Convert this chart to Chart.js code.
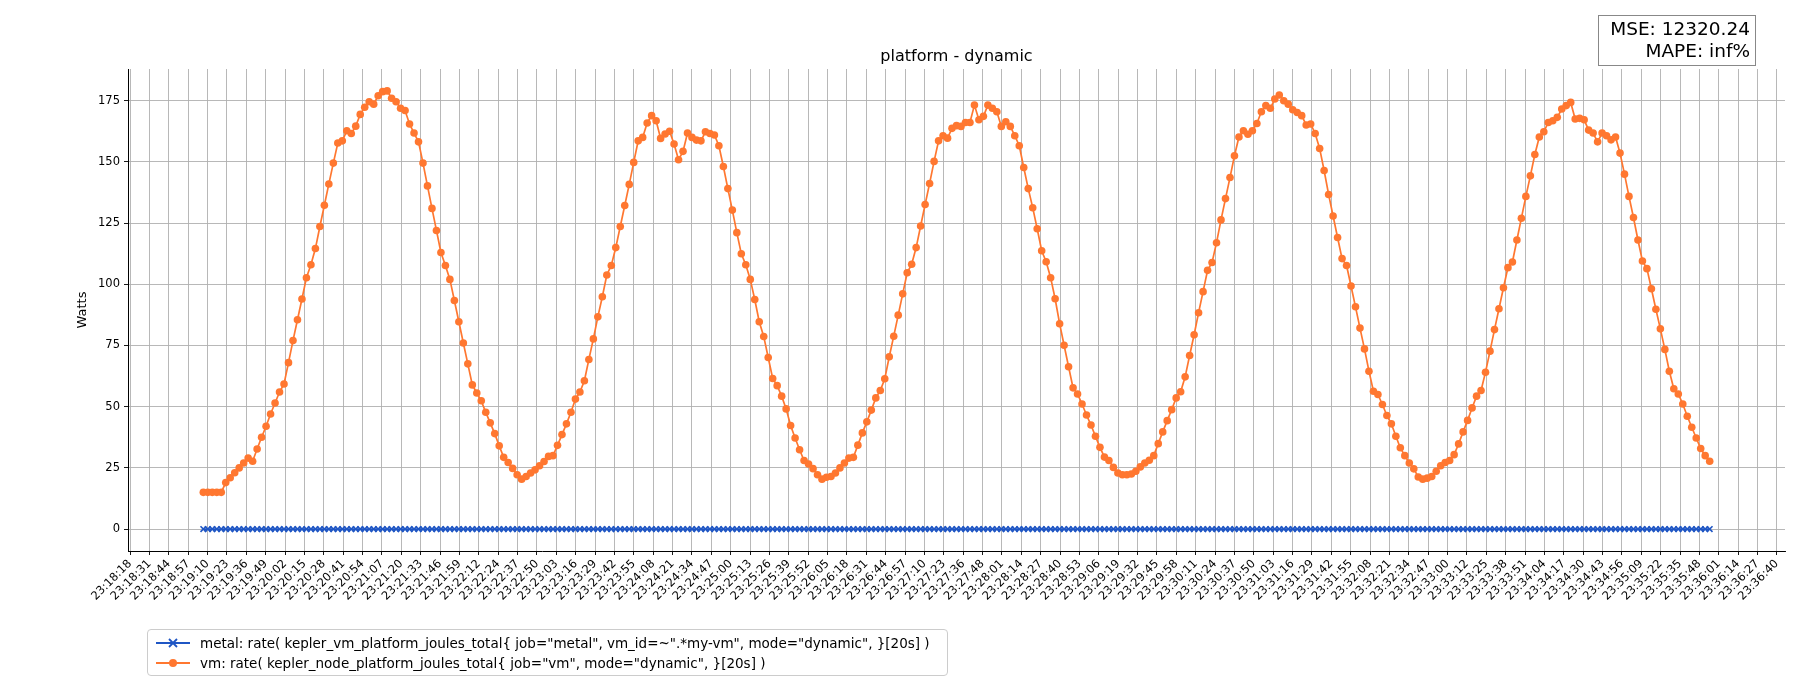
<!DOCTYPE html>
<html><head><meta charset="utf-8">
<script src="https://cdn.jsdelivr.net/npm/chart.js@4.4.1/dist/chart.umd.min.js"></script>
<style>
body{margin:0;background:#fff;font-family:"DejaVu Sans",sans-serif;}
#wrap{position:relative;width:1800px;height:700px;}
#mse{position:absolute;left:1598px;top:15px;width:158px;height:51px;border:1px solid #888;box-sizing:border-box;text-align:right;font-size:18.5px;line-height:22px;padding:2px 5px;color:#000;white-space:nowrap;}
#leg{position:absolute;left:147px;top:629px;width:801px;height:47px;border:1px solid #ccc;border-radius:4px;box-sizing:border-box;font-size:13.5px;color:#000;padding:3px 6px;}
#leg div{height:20px;display:flex;align-items:center;}
#leg svg{margin-right:8px;}
</style></head>
<body><div id="wrap"><canvas id="c" width="1800" height="700"></canvas>
<div id="mse">MSE: 12320.24<br>MAPE: inf%</div>
<div id="leg">
<div><svg width="38" height="12"><line x1="2" y1="6" x2="36" y2="6" stroke="#1f56c4" stroke-width="1.8"/><path d="M15 2 L23 10 M23 2 L15 10" stroke="#1f56c4" stroke-width="1.8"/></svg>metal: rate( kepler_vm_platform_joules_total{ job="metal", vm_id=~".*my-vm", mode="dynamic", }[20s] )</div>
<div><svg width="38" height="12"><line x1="2" y1="6" x2="36" y2="6" stroke="#ff7730" stroke-width="1.8"/><circle cx="19" cy="6" r="4" fill="#ff7730"/></svg>vm: rate( kepler_node_platform_joules_total{ job="vm", mode="dynamic", }[20s] )</div>
</div></div>
<script>
const tickLabels=["23:18:18","23:18:31","23:18:44","23:18:57","23:19:10","23:19:23","23:19:36","23:19:49","23:20:02","23:20:15","23:20:28","23:20:41","23:20:54","23:21:07","23:21:20","23:21:33","23:21:46","23:21:59","23:22:12","23:22:24","23:22:37","23:22:50","23:23:03","23:23:16","23:23:29","23:23:42","23:23:55","23:24:08","23:24:21","23:24:34","23:24:47","23:25:00","23:25:13","23:25:26","23:25:39","23:25:52","23:26:05","23:26:18","23:26:31","23:26:44","23:26:57","23:27:10","23:27:23","23:27:36","23:27:48","23:28:01","23:28:14","23:28:27","23:28:40","23:28:53","23:29:06","23:29:19","23:29:32","23:29:45","23:29:58","23:30:11","23:30:24","23:30:37","23:30:50","23:31:03","23:31:16","23:31:29","23:31:42","23:31:55","23:32:08","23:32:21","23:32:34","23:32:47","23:33:00","23:33:12","23:33:25","23:33:38","23:33:51","23:34:04","23:34:17","23:34:30","23:34:43","23:34:56","23:35:09","23:35:22","23:35:35","23:35:48","23:36:01","23:36:14","23:36:27","23:36:40"];
const yTicks=[0,25,50,75,100,125,150,175];
const vmValues=[15,15,15,15,15,19,21,23,25,27,29,27.7,32.7,37.5,42,47,51.5,56,59.3,68,77,85.5,94,102.7,108,114.6,123.6,132.3,141,149.5,157.7,158.6,162.7,161.6,164.6,169.4,172.3,174.6,173.6,177,178.7,179,176,174.6,171.9,171,165.5,161.8,158.2,149.5,140.2,131,122,113,107.7,102,93.4,84.7,
76,67.5,58.9,55.6,52.4,47.7,43.4,39,34,29.3,27.2,24.8,22.2,20.4,21.5,22.9,24.2,25.9,27.6,29.7,30,34.2,38.6,43,47.7,53.1,56,60.6,69.3,77.7,86.7,94.9,103.8,107.7,115,123.6,132.2,140.8,149.8,158.6,160,165.9,168.9,166.8,159.6,161.4,162.5,157.3,150.9,154.3,161.8,160,158.9,158.6,162.3,
161.6,161,156.6,148.1,139.1,130.3,121.1,112.5,108,102,93.8,84.7,78.7,70.1,61.5,58.6,54.3,49.1,42.3,37.2,32.4,28,26.6,24.7,22.2,20.4,21.2,21.5,22.9,25,27,29,29.3,34.3,39.3,43.8,48.6,53.6,56.6,61.4,70.4,78.8,87.4,96.1,104.7,108.2,115,123.8,132.6,141.2,150.2,158.6,160.7,159.7,163.7,164.8,164.5,166.1,
166.1,173.2,167.2,168.6,173.2,171.9,170.5,164.5,166.4,164.5,160.7,156.6,147.7,139.1,131.3,122.7,113.7,109.2,102.7,94.1,83.9,75.1,66.3,57.7,55.2,51.1,46.6,42.5,37.9,33.4,29.4,28,25.2,22.9,22.2,22.2,22.5,23.6,25.4,27,28.1,30,34.9,39.7,44.3,48.8,53.6,56.1,62.2,70.9,79.4,88.4,97,105.7,108.9,117,126.3,
135,143.6,152.5,160.2,162.7,161.3,162.7,165.7,170.5,173,171.9,175.7,177.3,175,173.6,171.3,170.2,168.9,165.1,165.5,161.6,155.5,146.5,136.7,127.9,119.1,110.5,107.7,99.3,90.8,82.1,73.6,64.5,56.3,55,50.9,46.4,43,37.9,33.2,30,27,24.6,21.3,20.4,20.8,21.5,23.6,25.9,27.2,28,30.4,34.8,39.7,44.4,49.5,54.3,
56.6,64.1,72.7,81.5,90,98.6,106.8,109.1,118.1,127,135.9,144.3,153,160.2,162.3,166.1,166.8,168.2,171.6,173,174.3,167.5,167.8,167.2,163,161.8,158.2,161.8,160.7,159,160.2,153.6,145,135.9,127.3,118.1,109.5,106.4,98.2,89.8,81.8,73.4,64.5,57.3,55.2,51.1,46.1,41.6,37.2,32.9,30,27.7];
const metalValues=vmValues.map(()=>0);
const firstSampleSec=49, sampleStepSec=3; // seconds after 23:18:18
const tickStepSec=1102/85;

const times=vmValues.map((_,i)=>firstSampleSec+i*sampleStepSec);
const vmData=vmValues.map((v,i)=>({x:times[i],y:v}));
const metalData=metalValues.map((v,i)=>({x:times[i],y:v}));
const span=times[times.length-1]-times[0];

const textPlugin={id:'t',afterDraw(ch){const a=ch.chartArea,c=ch.ctx;c.save();c.fillStyle='#000';
 c.font='16px "DejaVu Sans"';c.textAlign='center';c.textBaseline='alphabetic';c.fillText('platform - dynamic',(a.left+a.right)/2,a.top-8);
 c.font='13px "DejaVu Sans"';c.translate(83,(a.top+a.bottom)/2);c.rotate(-Math.PI/2);c.textBaseline='middle';c.fillText('Watts',0,0);
 c.restore();}};
const GRID='#b0b0b0';
new Chart(document.getElementById('c'),{
 type:'line',
 data:{datasets:[
  {label:'metal',data:metalData,borderColor:'#1f56c4',backgroundColor:'#1f56c4',borderWidth:1.7,pointStyle:'crossRot',pointRadius:4,pointBorderWidth:1.6,tension:0},
  {label:'vm',data:vmData,borderColor:'#ff7730',backgroundColor:'#ff7730',borderWidth:1.7,pointStyle:'circle',pointRadius:3.8,pointBorderWidth:0,tension:0}
 ]},
 plugins:[textPlugin],
 options:{responsive:false,animation:false,devicePixelRatio:1,
  layout:{padding:{left:0,top:69,right:15,bottom:0}},
  plugins:{legend:{display:false},tooltip:{enabled:false}},
  scales:{
   x:{type:'linear',min:times[0]-0.05*span,max:times[times.length-1]+0.05*span,
     afterBuildTicks(s){s.ticks=tickLabels.map((_,k)=>({value:k*tickStepSec}));},
     afterFit(s){s.height=149;},
     ticks:{autoSkip:false,maxRotation:45,minRotation:45,color:'#000',font:{family:'DejaVu Sans',size:11.5},padding:2,
       callback:(v,i)=>tickLabels[i]},
     grid:{color:GRID,lineWidth:0.9,tickColor:'#000',tickLength:4},
     border:{color:'#000',width:1}},
   y:{min:-8.95,max:187.95,
     afterBuildTicks(s){s.ticks=yTicks.map(v=>({value:v}));},
     afterFit(s){s.width=128;},
     ticks:{color:'#000',font:{family:'DejaVu Sans',size:11.5},padding:4},
     grid:{color:GRID,lineWidth:0.9,tickColor:'#000',tickLength:4},
     border:{color:'#000',width:1}}
  }}
});
</script></body></html>
